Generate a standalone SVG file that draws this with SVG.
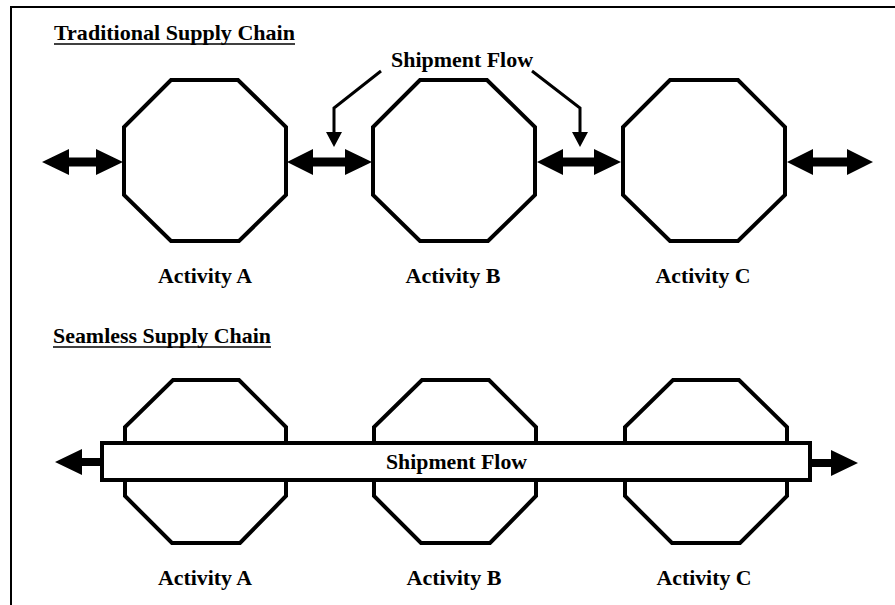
<svg xmlns="http://www.w3.org/2000/svg" width="895" height="605" viewBox="0 0 895 605">
<style>
.oct{fill:#fff;stroke:#000;stroke-width:4;stroke-linejoin:miter}
.lbl{font-family:"Liberation Serif","Times New Roman",serif;font-weight:bold;font-size:21px;fill:#000}
.ttl{font-family:"Liberation Serif","Times New Roman",serif;font-weight:bold;font-size:21px;fill:#000}
.arr{fill:#000;stroke:none}
.call{fill:none;stroke:#000;stroke-width:3}
.bar{fill:#fff;stroke:#000;stroke-width:4}
</style>
<rect x="0" y="0" width="895" height="605" fill="#fff"/>
<g id="frame">
<line x1="10" y1="7" x2="895" y2="7" stroke="#000" stroke-width="2"/>
<line x1="11" y1="6" x2="11" y2="605" stroke="#000" stroke-width="2"/>
</g>
<g id="title-traditional">
<text class="ttl" x="54" y="40" textLength="241" lengthAdjust="spacingAndGlyphs">Traditional Supply Chain</text>
<line x1="54" y1="44" x2="295" y2="44" stroke="#000" stroke-width="1.5"/>
</g>
<g id="title-seamless">
<text class="ttl" x="53" y="343" textLength="218" lengthAdjust="spacingAndGlyphs">Seamless Supply Chain</text>
<line x1="53" y1="347" x2="271" y2="347" stroke="#000" stroke-width="1.5"/>
</g>
<g id="t-activity-a">
<polygon class="oct" points="171,80 238,80 286,127 286,195 239,241 171,241 124,195 124,127"/>
<text class="lbl" x="205" y="283" text-anchor="middle" textLength="94" lengthAdjust="spacingAndGlyphs">Activity A</text>
</g>
<g id="t-activity-b">
<polygon class="oct" points="420,80 487,80 535,127 535,195 488,241 420,241 373,195 373,127"/>
<text class="lbl" x="453" y="283" text-anchor="middle" textLength="95" lengthAdjust="spacingAndGlyphs">Activity B</text>
</g>
<g id="t-activity-c">
<polygon class="oct" points="670,80 738,80 785,127 785,195 738,241 670,241 623,195 623,127"/>
<text class="lbl" x="703" y="283" text-anchor="middle" textLength="95" lengthAdjust="spacingAndGlyphs">Activity C</text>
</g>
<g id="s-activity-a">
<polygon class="oct" points="173,380 239,380 286,427 286,496 240,543 172,543 125,496 125,427"/>
<text class="lbl" x="205" y="585" text-anchor="middle" textLength="94" lengthAdjust="spacingAndGlyphs">Activity A</text>
</g>
<g id="s-activity-b">
<polygon class="oct" points="422,380 489,380 536,427 536,496 490,543 421,543 374,496 374,427"/>
<text class="lbl" x="454" y="585" text-anchor="middle" textLength="95" lengthAdjust="spacingAndGlyphs">Activity B</text>
</g>
<g id="s-activity-c">
<polygon class="oct" points="673,380 739,380 787,427 787,496 740,543 672,543 625,496 625,427"/>
<text class="lbl" x="704" y="585" text-anchor="middle" textLength="95" lengthAdjust="spacingAndGlyphs">Activity C</text>
</g>
<g id="shipment-flow-label">
<text class="ttl" x="391" y="67" textLength="142" lengthAdjust="spacingAndGlyphs">Shipment Flow</text>
</g>
<g id="connectors">
<polygon class="arr" points="42,162 69,149 69,157.5 96,157.5 96,149 123,162 96,175 96,166.5 69,166.5 69,175"/>
<polygon class="arr" points="287,162 313,149 313,157.5 345,157.5 345,149 372,162 345,175 345,166.5 313,166.5 313,175"/>
<polygon class="arr" points="537,162 563,149 563,157.5 594,157.5 594,149 621,162 594,175 594,166.5 563,166.5 563,175"/>
<polygon class="arr" points="787,162 813,149 813,157.5 847,157.5 847,149 873,162 847,175 847,166.5 813,166.5 813,175"/>
<polyline class="call" points="381,71 334,108 334,134"/>
<polygon class="arr" points="326,132 342,132 334,147"/>
<polyline class="call" points="532,71 580,108 580,134"/>
<polygon class="arr" points="572,132 588,132 580,147"/>
<polygon class="arr" points="55,462 82,449 82,458 101,458 101,466 82,466 82,475"/>
<polygon class="arr" points="858,463 831,450 831,459 811,459 811,467 831,467 831,476"/>
</g>
<g id="shipment-flow-bar">
<rect class="bar" x="102" y="443" width="708" height="37"/>
<text class="ttl" x="386" y="469" textLength="141" lengthAdjust="spacingAndGlyphs">Shipment Flow</text>
</g>
</svg>
